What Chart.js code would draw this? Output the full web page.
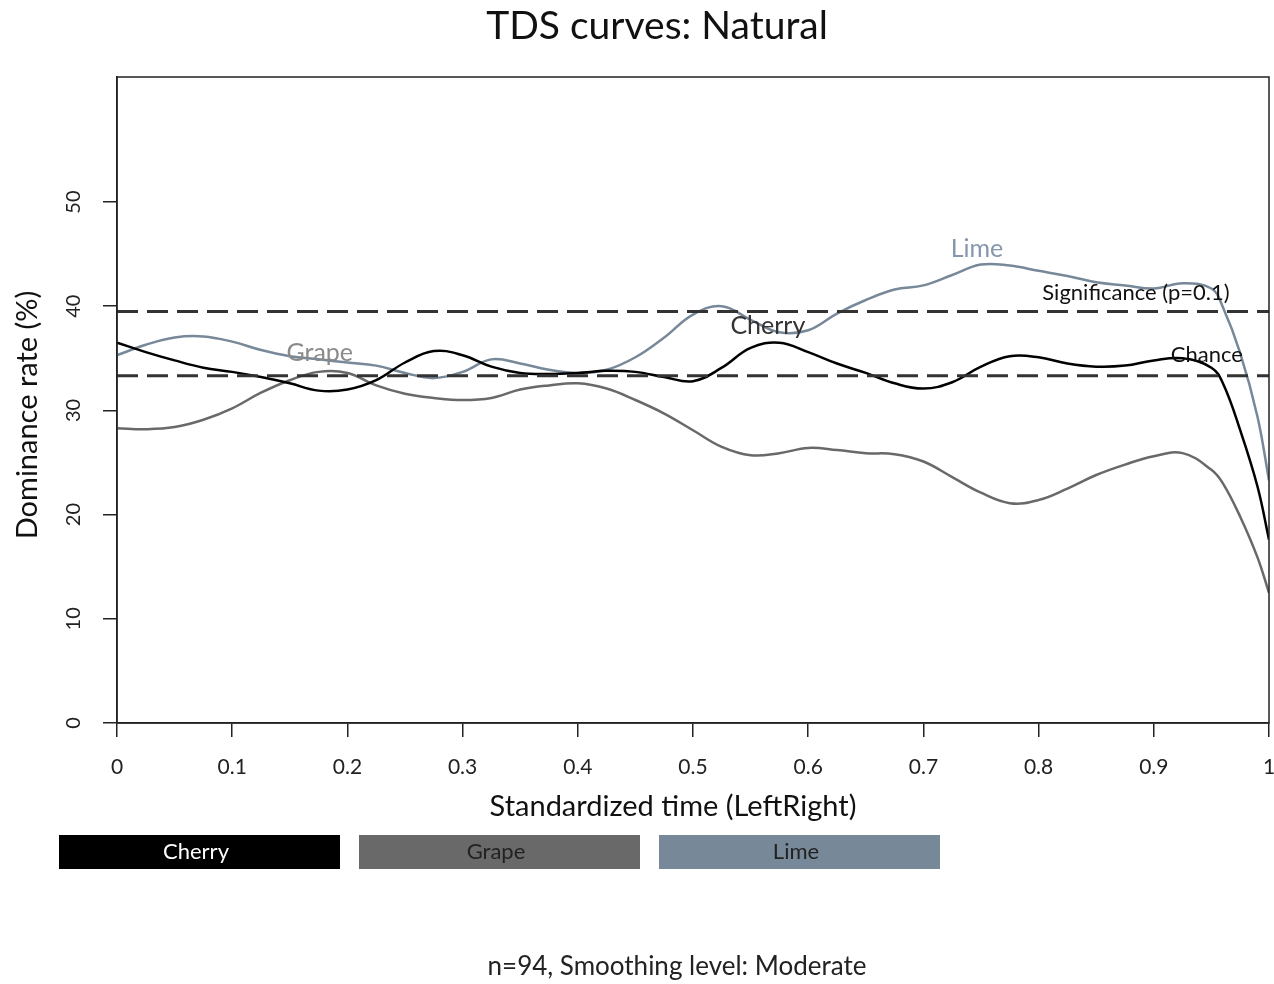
<!DOCTYPE html>
<html>
<head>
<meta charset="utf-8">
<title>TDS curves: Natural</title>
<script src="https://cdn.jsdelivr.net/npm/chart.js@4/dist/chart.umd.min.js"></script>
<style>
  html, body { margin: 0; padding: 0; background: #fff; }
  canvas { display: block; }
</style>
</head>
<body>
<canvas id="tds-chart" width="1274" height="984"></canvas>
<script>
// Standardized time grid shared by the three attribute curves
const timePoints = [
  0, 0.025, 0.05, 0.075, 0.1, 0.125, 0.15, 0.175, 0.2, 0.225, 0.25, 0.275,
  0.3, 0.325, 0.35, 0.375, 0.4, 0.425, 0.45, 0.475, 0.5, 0.525, 0.55, 0.575,
  0.6, 0.625, 0.65, 0.675, 0.7, 0.725, 0.75, 0.775, 0.8, 0.825, 0.85, 0.875,
  0.9, 0.925, 0.95, 0.96, 0.975, 0.99, 1
];

// Dominance rates (%)
const cherryRates = [
  36.5, 35.6, 34.8, 34.1, 33.7, 33.2, 32.6, 31.9, 32.0, 32.9, 34.6, 35.7,
  35.3, 34.2, 33.6, 33.5, 33.6, 33.8, 33.7, 33.2, 32.8, 34.1, 36.0, 36.5,
  35.6, 34.5, 33.6, 32.6, 32.1, 32.7, 34.2, 35.2, 35.1, 34.5, 34.2, 34.3,
  34.8, 35.0, 34.1, 32.6, 28.1, 22.7, 17.6
];
const grapeRates = [
  28.3, 28.2, 28.4, 29.1, 30.2, 31.7, 32.9, 33.7, 33.6, 32.4, 31.6, 31.2,
  31.0, 31.2, 32.0, 32.4, 32.6, 32.1, 31.0, 29.7, 28.1, 26.5, 25.7, 25.9,
  26.4, 26.2, 25.9, 25.8, 25.1, 23.6, 22.1, 21.1, 21.4, 22.5, 23.8, 24.8,
  25.6, 25.9, 24.3, 23.0, 19.8, 15.9, 12.5
];
const limeRates = [
  35.3, 36.3, 37.0, 37.1, 36.6, 35.8, 35.2, 34.9, 34.6, 34.3, 33.6, 33.1,
  33.7, 34.9, 34.5, 33.9, 33.6, 33.9, 35.1, 37.0, 39.2, 40.0, 38.7, 37.5,
  37.7, 39.3, 40.6, 41.6, 42.0, 43.0, 44.0, 43.9, 43.4, 42.9, 42.3, 42.0,
  41.7, 42.2, 41.7, 39.9, 35.5, 29.4, 23.3
];

const attributeNames = ['Cherry', 'Grape', 'Lime'];
const attributeColors = ['#000000', '#696969', '#778899'];

// Reference levels
const chanceLevel = 33.33;
const significanceLevel = 39.5;

const yTicks = [0, 10, 20, 30, 40, 50];
const FONT = 'Lato, "Open Sans", sans-serif';

// Curve / line annotations, placed in data coordinates
const curveLabels = [
  { text: 'Lime', x: 0.7465, y: 45.5, color: '#8596ad', size: 25 },
  { text: 'Grape', x: 0.176, y: 35.5, color: '#8a8a8a', size: 25 },
  { text: 'Cherry', x: 0.565, y: 38.1, color: '#333333', size: 25 },
  { text: 'Significance (p=0.1)', x: 0.8845, y: 41.3, color: '#111111', size: 22 },
  { text: 'Chance', x: 0.946, y: 35.3, color: '#111111', size: 22 }
];

function toPoints(values) {
  return timePoints.map((t, i) => ({ x: t, y: values[i] }));
}

function flatLine(level) {
  return [{ x: 0, y: level }, { x: 1, y: level }];
}

const curveSeries = [cherryRates, grapeRates, limeRates];

const datasets = [
  {
    label: 'Significance',
    data: flatLine(significanceLevel),
    borderColor: '#333333',
    borderWidth: 3,
    borderDash: [21, 9],
    pointRadius: 0
  },
  {
    label: 'Chance',
    data: flatLine(chanceLevel),
    borderColor: '#333333',
    borderWidth: 3,
    borderDash: [21, 9],
    pointRadius: 0
  }
];

curveSeries.forEach((values, i) => {
  datasets.push({
    label: attributeNames[i],
    data: toPoints(values),
    borderColor: attributeColors[i],
    borderWidth: 2.5,
    pointRadius: 0,
    tension: 0.4
  });
});

// Draws the frame, rotated y labels, titles, the attribute bar and the footer
const decorations = {
  id: 'decorations',
  afterDraw(chart) {
    const ctx = chart.ctx;
    const area = chart.chartArea;
    const xScale = chart.scales.x;
    const yScale = chart.scales.y;

    ctx.save();

    // plot frame
    ctx.strokeStyle = '#222';
    ctx.lineWidth = 1.5;
    ctx.strokeRect(area.left, area.top, area.right - area.left, area.bottom - area.top);

    // y tick labels, rotated like the axis title
    ctx.fillStyle = '#222';
    ctx.font = `20px ${FONT}`;
    ctx.textAlign = 'center';
    ctx.textBaseline = 'middle';
    yTicks.forEach(v => {
      const py = yScale.getPixelForValue(v);
      ctx.save();
      ctx.translate(74, py);
      ctx.rotate(-Math.PI / 2);
      ctx.fillText(String(v), 0, 0);
      ctx.restore();
    });

    // curve annotations
    curveLabels.forEach(l => {
      ctx.fillStyle = l.color;
      ctx.font = `${l.size}px ${FONT}`;
      ctx.fillText(l.text, xScale.getPixelForValue(l.x), yScale.getPixelForValue(l.y));
    });

    // main title
    ctx.fillStyle = '#111';
    ctx.font = `39px ${FONT}`;
    ctx.fillText('TDS curves: Natural', 657, 26);

    // axis titles
    ctx.font = `29px ${FONT}`;
    ctx.fillText('Standardized time (LeftRight)', 673, 807);
    ctx.save();
    ctx.translate(28, 415);
    ctx.rotate(-Math.PI / 2);
    ctx.fillText('Dominance rate (%)', 0, 0);
    ctx.restore();

    // attribute colour bar
    const textColors = ['#ffffff', '#222222', '#222222'];
    attributeNames.forEach((name, i) => {
      const bx = 59 + i * 300;
      ctx.fillStyle = attributeColors[i];
      ctx.fillRect(bx, 835, 281, 34);
      ctx.fillStyle = textColors[i];
      ctx.font = `22px ${FONT}`;
      ctx.fillText(name, bx + 137, 852);
    });

    // footer
    ctx.fillStyle = '#222';
    ctx.font = `26px ${FONT}`;
    ctx.fillText('n=94, Smoothing level: Moderate', 677, 967);

    ctx.restore();
  }
};

new Chart(document.getElementById('tds-chart'), {
  type: 'line',
  data: { datasets },
  options: {
    responsive: false,
    animation: false,
    devicePixelRatio: 1,
    layout: { padding: { left: 0, top: 77, right: 5, bottom: 0 } },
    plugins: {
      legend: { display: false },
      tooltip: { enabled: false }
    },
    scales: {
      x: {
        type: 'linear',
        min: 0,
        max: 1,
        afterFit: scale => {
          scale.height = 261;
          scale.paddingLeft = 0;
          scale.paddingRight = 0;
        },
        border: { display: true, color: '#222', width: 1.5 },
        grid: { display: true, drawOnChartArea: false, drawTicks: true, tickLength: 14, color: '#222', lineWidth: 1.5 },
        ticks: {
          stepSize: 0.1,
          color: '#222',
          padding: 18,
          maxRotation: 0,
          font: { family: FONT, size: 21 },
          callback: v => String(Math.round(v * 10) / 10)
        }
      },
      y: {
        type: 'linear',
        min: 0,
        max: 62,
        afterFit: scale => {
          scale.width = 117;
          scale.paddingTop = 0;
          scale.paddingBottom = 0;
        },
        afterBuildTicks: scale => { scale.ticks = yTicks.map(v => ({ value: v })); },
        border: { display: true, color: '#222', width: 1.5 },
        grid: { display: true, drawOnChartArea: false, drawTicks: true, tickLength: 14, color: '#222', lineWidth: 1.5 },
        ticks: { display: false }
      }
    }
  },
  plugins: [decorations]
});
</script>
</body>
</html>
